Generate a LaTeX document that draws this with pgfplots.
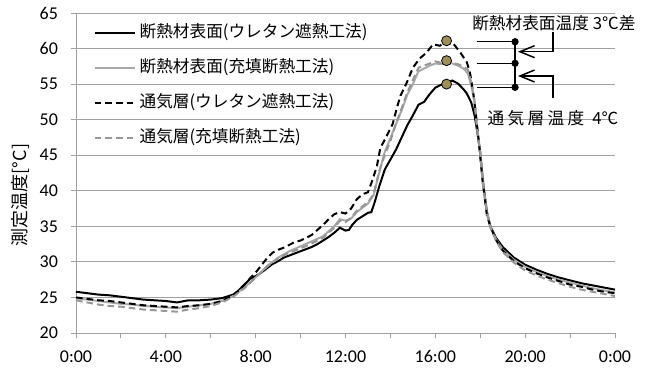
\documentclass[border=0pt]{standalone}
\usepackage{fontspec}
\setmainfont{Carlito}
\newfontfamily\jp{Noto Sans CJK JP}
\usepackage{pgfplots}
\usepackage{pgfplotstable}
\pgfplotsset{compat=1.18}
\usetikzlibrary{arrows.meta}
\definecolor{gridgray}{HTML}{A0A0A0}
\definecolor{lgray}{HTML}{A8A8A8}
\definecolor{dgray}{HTML}{969696}
\definecolor{dotc}{HTML}{9C8F5C}

% A: 断熱材表面(ウレタン遮熱工法)
\pgfplotstableread{
t v
0 25.8
0.5 25.6
1 25.4
1.5 25.3
2 25.1
2.5 24.9
3 24.7
3.5 24.6
4 24.5
4.5 24.3
5 24.6
5.5 24.6
6 24.7
6.5 24.9
7 25.4
7.25 26.0
7.5 26.8
7.75 27.6
8 28.0
8.25 28.5
8.5 29.1
8.75 29.7
9 30.1
9.25 30.6
9.5 30.9
9.75 31.2
10 31.5
10.25 31.8
10.5 32.1
10.75 32.5
11 33.0
11.25 33.5
11.5 34.1
11.75 34.8
12 34.4
12.15 34.5
12.3 35.2
12.5 35.9
12.75 36.4
13 36.9
13.15 37.0
13.3 38.4
13.5 40.6
13.75 43.0
14 44.4
14.25 45.8
14.5 47.5
14.75 49.2
15 50.6
15.25 52.1
15.5 52.5
15.75 53.6
16 54.5
16.25 54.9
16.5 55.0
16.75 55.5
17 55.1
17.25 54.3
17.4 53.7
17.6 52.4
17.75 50.6
17.9 47.6
18 45.3
18.15 40.5
18.3 37.0
18.45 35.0
18.7 33.4
19 32.1
19.5 30.6
20 29.6
20.5 28.9
21 28.3
21.5 27.8
22 27.4
22.5 27.0
23 26.7
23.5 26.4
24 26.1
}\tabA

% B: 断熱材表面(充填断熱工法)
\pgfplotstableread{
t v
0 24.9
0.5 24.7
1 24.5
1.5 24.3
2 24.1
2.5 24.0
3 23.8
3.5 23.7
4 23.6
4.5 23.5
5 23.7
5.5 23.9
6 24.1
6.5 24.5
7 25.2
7.5 26.4
8 27.8
8.5 29.4
9 30.6
9.5 31.5
10 32.2
10.5 32.9
11 33.6
11.5 35.0
11.75 36.0
12 35.8
12.25 36.1
12.5 37.0
12.75 37.6
13 38.2
13.25 39.4
13.5 42.5
13.75 45.5
14 47.4
14.25 49.4
14.5 51.3
14.75 53.5
15 55.0
15.25 56.8
15.5 57.2
15.75 57.6
16 57.9
16.25 57.8
16.5 58.2
16.75 57.9
17 57.6
17.25 57.2
17.45 56.5
17.6 54.8
17.75 52.5
17.9 47.6
18 45.3
18.15 40.3
18.3 37.0
18.45 35.0
18.7 33.2
19 31.7
19.5 30.3
20 29.3
20.5 28.6
21 28.0
21.5 27.5
22 27.1
22.5 26.7
23 26.3
23.5 26.0
24 25.7
}\tabB

% C: 通気層(ウレタン遮熱工法)
\pgfplotstableread{
t v
0 25.0
0.5 24.8
1 24.6
1.5 24.5
2 24.3
2.5 24.1
3 23.9
3.5 23.8
4 23.7
4.5 23.6
5 23.8
5.5 23.9
6 24.1
6.5 24.5
7 25.3
7.25 26.0
7.5 26.8
7.75 27.7
8 28.5
8.25 29.5
8.5 30.5
8.75 31.3
9 31.7
9.25 32.0
9.5 32.4
9.75 32.8
10 33.0
10.25 33.4
10.5 33.8
10.75 34.5
11 35.2
11.25 36.0
11.5 36.7
11.75 37.0
12 36.8
12.25 37.5
12.5 38.8
12.75 39.5
13 39.8
13.2 41.5
13.4 43.5
13.55 46.0
13.8 47.5
14.1 49.4
14.3 51.8
14.45 53.4
14.7 55.0
15 57.3
15.3 58.6
15.6 59.4
15.9 60.6
16.2 60.4
16.5 61.1
16.8 60.7
17.1 59.5
17.4 58.1
17.55 56.5
17.7 53.5
17.8 50.9
17.95 46.5
18.1 41.5
18.3 36.5
18.45 35.0
18.7 33.1
19 31.6
19.5 30.1
20 29.1
20.5 28.4
21 27.8
21.5 27.3
22 26.8
22.5 26.5
23 26.1
23.5 25.8
24 25.6
}\tabC

% D: 通気層(充填断熱工法)
\pgfplotstableread{
t v
0 24.6
0.5 24.3
1 24.0
1.5 23.8
2 23.7
2.5 23.5
3 23.3
3.5 23.2
4 23.1
4.5 23.0
5 23.3
5.5 23.5
6 23.8
6.5 24.3
7 25.1
7.5 26.3
8 27.8
8.5 29.3
9 30.5
9.5 31.3
10 31.9
10.5 32.6
11 33.4
11.5 34.8
11.75 35.8
12 35.6
12.25 36.2
12.5 37.2
12.75 37.8
13 38.4
13.25 39.5
13.5 42.8
13.75 45.0
14 47.0
14.25 49.5
14.5 51.6
14.75 53.8
15 55.6
15.25 57.3
15.5 57.6
15.75 57.9
16 58.2
16.25 58.0
16.5 58.3
16.75 58.0
17 57.8
17.25 57.5
17.45 57.0
17.6 55.2
17.75 52.5
17.85 49.0
18 45.5
18.13 40.5
18.3 36.8
18.45 34.8
18.7 33.0
19 31.4
19.5 29.9
20 28.8
20.5 28.1
21 27.5
21.5 27.0
22 26.5
22.5 26.1
23 25.8
23.5 25.5
24 25.2
}\tabD

\begin{document}
\begin{tikzpicture}
\path[use as bounding box] (-57pt,-27pt) rectangle (438pt,249.75pt);
\begin{axis}[
  at={(0,0)}, anchor=south west,
  scale only axis, width=404.25pt, height=240pt,
  xmin=0, xmax=24, ymin=20, ymax=65,
  clip=false,
  xtick={0,4,8,12,16,20,24},
  xticklabels={0:00,4:00,8:00,12:00,16:00,20:00,0:00},
  minor xtick={2,6,10,14,18,22},
  ytick={20,25,...,65},
  ymajorgrids,
  major grid style={gridgray, line width=0.75pt},
  axis x line*=bottom, axis y line*=left,
  axis line style={gridgray, line width=0.75pt, -},
  tick style={gridgray, line width=0.75pt},
  major tick length=4pt, minor tick length=4pt,
  tick align=outside,
  tick label style={font=\fontsize{13.5}{13.5}\selectfont},
  xticklabel style={yshift=-5.5pt},
  yticklabel style={xshift=-6pt},
  /pgf/number format/assume math mode=true,
  legend cell align=left,
  legend image code/.code={\draw[#1] (0pt,0pt) -- (30pt,0pt);},
  legend style={at={(axis description cs:0,1)}, anchor=north west,
    xshift=13pt, yshift=-9pt, draw=none, fill=none, inner sep=0pt,
    font=\jp\fontsize{12.5}{12.5}\selectfont, row sep=15pt,
    nodes={inner sep=0pt, text height=9pt, text depth=2.3pt},
    /tikz/every even column/.append style={column sep=0pt},
    /tikz/every odd column/.append style={column sep=3pt}},
]
\addplot[black, line width=1.5pt] table[x=t,y=v] {\tabA};
\addlegendentry{断熱材表面(ウレタン遮熱工法)}
\addplot[lgray, line width=1.5pt] table[x=t,y=v] {\tabB};
\addlegendentry{断熱材表面(充填断熱工法)}
\addplot[black, line width=1.5pt, dash pattern=on 5pt off 3pt] table[x=t,y=v] {\tabC};
\addlegendentry{通気層(ウレタン遮熱工法)}
\addplot[dgray, line width=1.5pt, dash pattern=on 5pt off 3pt] table[x=t,y=v] {\tabD};
\addlegendentry{通気層(充填断熱工法)}

% peak markers
\addplot[only marks, mark=*, mark size=3.75pt, mark options={fill=dotc, draw=black, line width=0.6pt}, forget plot]
  coordinates {(16.5,61.1) (16.5,58.3) (16.5,55.0)};

% bracket
\draw[black, line width=1.1pt] (axis cs:17.84,60.96) -- (axis cs:19.55,60.96);
\draw[black, line width=1.1pt] (axis cs:17.84,57.93) -- (axis cs:19.55,57.93);
\draw[black, line width=1.1pt] (axis cs:17.84,54.55) -- (axis cs:19.55,54.55);
\draw[black, line width=1.1pt] (axis cs:19.55,60.96) -- (axis cs:19.55,54.55);
\addplot[only marks, mark=*, mark size=2.5pt, black, forget plot]
  coordinates {(19.55,60.96) (19.55,57.93) (19.55,54.55)};
\draw[black, line width=1.1pt, -{Straight Barb[length=11pt,width=9pt,line width=1.1pt]}]
  (axis cs:21.23,62.3) -- (axis cs:21.23,59.56) -- (axis cs:19.68,59.56);
\draw[black, line width=1.1pt, -{Straight Barb[length=11pt,width=9pt,line width=1.1pt]}]
  (axis cs:21.23,53.0) -- (axis cs:21.23,56.14) -- (axis cs:19.68,56.14);
\node[font=\jp\fontsize{12.5}{12.5}\selectfont, inner sep=0pt] at (axis cs:21.28,63.55) {断熱材表面温度\hspace{3pt}3℃差};
\node[font=\jp\fontsize{12.5}{12.5}\selectfont, inner sep=0pt] at (axis cs:21.24,50.23)
  {通\hspace{2.5pt}気\hspace{2.5pt}層\hspace{2.5pt}温\hspace{2.5pt}度\hspace{6pt}4℃};
\end{axis}
\node[rotate=90, font=\jp\fontsize{13.5}{13.5}\selectfont, inner sep=0pt] at (-42pt,103.5pt) {測定温度[°C]};
\end{tikzpicture}
\end{document}
